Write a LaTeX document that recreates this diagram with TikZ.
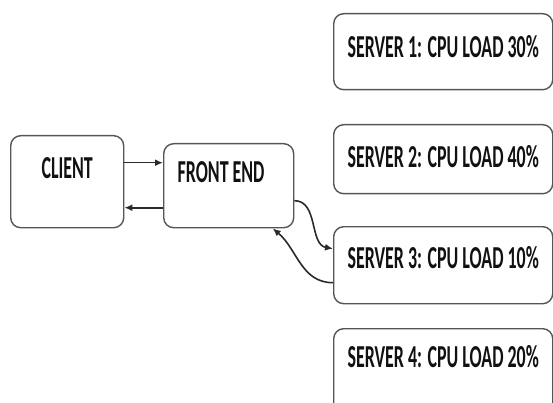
\documentclass[tikz,border=0pt]{standalone}
\usepackage{fontspec}
\usetikzlibrary{arrows.meta}
\newfontfamily\boxfont{Carlito}[FakeStretch=0.56, BoldFont={Carlito Bold}]
\definecolor{boxgray}{HTML}{555555}
\definecolor{linegray}{HTML}{2A2A2A}
\definecolor{inkblack}{HTML}{111111}
\tikzset{
  box/.style={draw=boxgray, line width=1.4pt, rounded corners=10pt, inner sep=0pt,
    text=inkblack, font=\boxfont\bfseries\fontsize{32}{36}\selectfont, anchor=north west},
  srv/.style={box, minimum width=219pt},
  link/.style={draw=linegray, line width=1.6pt, -{Latex[length=8pt,width=7pt]}}
}
\begin{document}
\begin{tikzpicture}[x=1pt, y=-1pt]
      \clip (0,0) rectangle (553,403) ;
      % client and front end
      \node [box, minimum width=113pt, text height=43pt, text depth=49pt] (client) at (10,135) {CLIENT} ;
      \node [box, inner xsep=14pt, text width=102pt, align=flush left, text height=39pt, text depth=45pt] (front) at (163,143) {FRONT END} ;
      % servers
      \node [srv, text height=44pt, text depth=32pt] (s1) at (333,13) {SERVER 1: CPU LOAD 30\%} ;
      \node [srv, text height=43pt, text depth=26pt] (s2) at (333,124) {SERVER 2: CPU LOAD 40\%} ;
      \node [srv, text height=42pt, text depth=35pt] (s3) at (333,226) {SERVER 3: CPU LOAD 10\%} ;
      \node [srv, text height=39pt, text depth=50pt] (s4) at (333,328) {SERVER 4: CPU LOAD 20\%} ;
      % connectors
      \draw [link] ([yshift=19pt]client.east) -- ([yshift=19pt]client.east -| front.west) ;
      \draw [link] ([yshift=-26pt]client.east -| front.west) -- ([yshift=-26pt]client.east) ;
      \draw [link] ([yshift=-15pt]front.east) to [out=0, in=170] ([yshift=16.5pt]s3.west) ;
      \draw [link] ([yshift=-17.5pt]s3.west) to [out=180, in=-40] ([xshift=44pt]front.south) ;
\end{tikzpicture}
\end{document}
